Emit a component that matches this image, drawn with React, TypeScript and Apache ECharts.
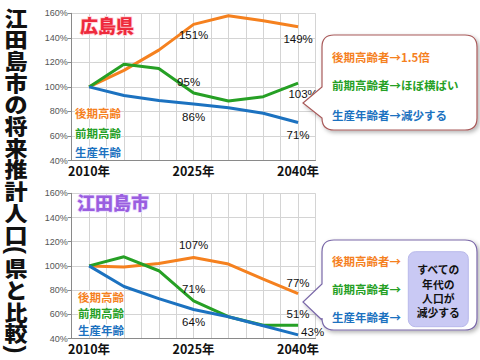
import React, { useEffect, useRef } from "react";
import * as echarts from "echarts";

const years = [2010, 2015, 2020, 2025, 2030, 2035, 2040];
const xTickYears = [2010, 2025, 2040];
const seriesNames = ["後期高齢", "前期高齢", "生産年齢"];
const hiroshimaLate = [100, 113.5, 130, 151, 158, 154, 149];
const hiroshimaEarly = [100, 118.5, 115, 95, 88.5, 92, 103];
const hiroshimaWorking = [100, 93, 89, 86, 83, 78.5, 71];
const etajimaLate = [100, 99, 102, 107, 101.5, 89, 77];
const etajimaEarly = [100, 107.5, 96, 71, 58, 51, 51];
const etajimaWorking = [100, 83, 73, 64, 58, 50.5, 43];
const panelTitles = ["広島県", "江田島市"];
const titleChars = ["江", "田", "島", "市", "の", "将", "来", "推", "計", "人", "口", "(", "県", "と", "比", "較", ")"];
const calloutTop = ["後期高齢者→1.5倍", "前期高齢者→ほぼ横ばい", "生産年齢者→減少する"];
const calloutBottom = ["後期高齢者→", "前期高齢者→", "生産年齢者→"];
const calloutNote = ["すべての", "年代の", "人口が", "減少する"];

const COLORS = ["#f5811f", "#26a025", "#1c72c0"];
const JP = "'Noto Sans CJK JP', 'Noto Sans', sans-serif";

function bubblePath(L: number, R: number, T: number, B: number, r: number, y1: number, tx: number, ty: number, y2: number) {
  return `M${L + r},${T} H${R - r} Q${R},${T} ${R},${T + r} V${B - r} Q${R},${B} ${R - r},${B} H${L + r} Q${L},${B} ${L},${B - r} V${y2} L${tx},${ty} L${L},${y1} V${T + r} Q${L},${T} ${L + r},${T} Z`;
}

echarts.graphic.registerShape("bubbleTop", echarts.graphic.extendPath(bubblePath(322, 477, 35, 130, 12, 87, 303, 103, 118), {}));
echarts.graphic.registerShape("bubbleBottom", echarts.graphic.extendPath(bubblePath(322, 477, 240, 330, 12, 284, 303, 302, 320), {}));

type LabelSpec = { [k: number]: { position: string; distance: number; offset?: number[] } };

function buildData(values: number[], spec: LabelSpec) {
  return values.map((v, i) => {
    const s = spec[i];
    if (!s) return { value: [years[i], v] };
    return {
      value: [years[i], v],
      label: {
        show: true,
        position: s.position,
        distance: s.distance,
        offset: s.offset || [0, 0],
        formatter: (p: any) => `${p.value[1]}%`,
        color: "#111",
        fontSize: 11.5,
        fontFamily: "'Liberation Sans', Arial, sans-serif",
      },
    };
  });
}

export default function App() {
  const ref = useRef<HTMLDivElement>(null);
  useEffect(() => {
    if (!ref.current) return;
    const chart = echarts.init(ref.current, undefined, { renderer: "svg" });

    const grids = [
      { left: 71.7, top: 13.3, width: 243.8, height: 147.2 },
      { left: 71.7, top: 193.3, width: 243.8, height: 145.2 },
    ];

    const xAxes = grids.map((_, gi) => ({
      type: "value",
      gridIndex: gi,
      min: 2007.5,
      max: 2042.5,
      interval: 2.5,
      axisLine: { show: true, lineStyle: { color: "#8a8a8a" } },
      axisTick: { show: false },
      splitLine: { show: true, lineStyle: { color: "#d4d4d4", width: 1 } },
      axisLabel: {
        formatter: (v: number) => (xTickYears.includes(v) ? `${v}年` : ""),
        color: "#111",
        fontSize: 12.5,
        fontWeight: "bold",
        fontFamily: JP,
        margin: 4,
        showMinLabel: true,
        showMaxLabel: true,
      },
    }));

    const yAxes = grids.map((_, gi) => ({
      type: "value",
      gridIndex: gi,
      min: 40,
      max: 160,
      interval: 20,
      axisLine: { show: true, lineStyle: { color: "#8a8a8a" } },
      axisTick: { show: true, length: 4, lineStyle: { color: "#8a8a8a" } },
      splitLine: { show: true, lineStyle: { color: "#d4d4d4", width: 1 } },
      axisLabel: {
        formatter: "{value}%",
        color: "#555",
        fontSize: 9,
        fontFamily: "'Liberation Sans', Arial, sans-serif",
        margin: 4,
      },
    }));

    const line = (name: string, gi: number, color: string, data: any[]) => ({
      name,
      type: "line",
      xAxisIndex: gi,
      yAxisIndex: gi,
      data,
      symbol: "circle",
      symbolSize: 0,
      showSymbol: true,
      showAllSymbol: true,
      lineStyle: { color, width: 3 },
      itemStyle: { color },
      label: { show: false },
    });

    const series = [
      line(seriesNames[0], 0, COLORS[0], buildData(hiroshimaLate, {
        3: { position: "bottom", distance: 5 },
        6: { position: "bottom", distance: 6 },
      })),
      line(seriesNames[1], 0, COLORS[1], buildData(hiroshimaEarly, {
        3: { position: "top", distance: 5, offset: [-5, 0] },
        6: { position: "bottom", distance: 5, offset: [5, 0] },
      })),
      line(seriesNames[2], 0, COLORS[2], buildData(hiroshimaWorking, {
        3: { position: "bottom", distance: 7 },
        6: { position: "bottom", distance: 7 },
      })),
      line(seriesNames[0], 1, COLORS[0], buildData(etajimaLate, {
        3: { position: "top", distance: 6 },
        6: { position: "top", distance: 5 },
      })),
      line(seriesNames[1], 1, COLORS[1], buildData(etajimaEarly, {
        3: { position: "top", distance: 6 },
        6: { position: "top", distance: 5.5 },
      })),
      line(seriesNames[2], 1, COLORS[2], buildData(etajimaWorking, {
        3: { position: "bottom", distance: 7 },
        6: { position: "right", distance: 3, offset: [0, -3] },
      })),
    ];

    const graphic: any[] = [];
    // big vertical title; brackets turned a quarter-turn as in vertical writing
    const titleCenters = [16, 37.7, 59.4, 81.1, 102.8, 124.5, 146.2, 167.9, 189.6, 211.3, 233, 250, 266.7, 288.4, 310.1, 331.8, 349.5];
    titleChars.forEach((ch, i) => {
      const isParen = ch === "(" || ch === ")";
      if (isParen) {
        graphic.push({
          type: "group",
          x: 16,
          y: titleCenters[i],
          rotation: -Math.PI / 2,
          z: 10,
          children: [
            {
              type: "text",
              x: 0,
              y: 0,
              style: {
                text: ch,
                fontSize: 24,
                fontWeight: "bold",
                fontFamily: "'Liberation Sans', Arial, sans-serif",
                fill: "#111",
                align: "center",
                verticalAlign: "middle",
              },
            },
          ],
        });
      } else {
        graphic.push({
          type: "text",
          x: 16,
          y: titleCenters[i],
          scaleX: 1.1,
          z: 10,
          style: {
            text: ch,
            fontSize: 21,
            fontWeight: 900,
            fontFamily: JP,
            fill: "#111",
            align: "center",
            verticalAlign: "middle",
          },
        });
      }
    });
    // panel titles
    graphic.push({
      type: "text",
      x: 80,
      y: 24.5,
      z: 10,
      style: {
        text: panelTitles[0],
        fontSize: 18,
        fontWeight: 900,
        fontFamily: JP,
        fill: "#ee2a3c",
        stroke: "#ffd0d6",
        lineWidth: 1.5,
        shadowColor: "rgba(240,40,60,0.5)",
        shadowBlur: 3,
        verticalAlign: "middle",
      },
    });
    graphic.push({
      type: "text",
      x: 77,
      y: 202,
      z: 10,
      style: {
        text: panelTitles[1],
        fontSize: 18,
        fontWeight: 900,
        fontFamily: JP,
        fill: "#9a5ee0",
        stroke: "#eadcff",
        lineWidth: 1.5,
        shadowColor: "rgba(150,90,220,0.5)",
        shadowBlur: 3,
        verticalAlign: "middle",
      },
    });
    // in-chart legend texts
    const legendY = [[113.3, 133.3, 152.3], [296.7, 313.3, 330]];
    const legendX = [75, 78];
    legendY.forEach((ys, gi) => {
      ys.forEach((y, i) => {
        graphic.push({
          type: "text",
          x: legendX[gi],
          y,
          z: 10,
          style: {
            text: seriesNames[i],
            fontSize: 11.5,
            fontWeight: "bold",
            fontFamily: JP,
            fill: COLORS[i],
            backgroundColor: "#ffffff",
            verticalAlign: "middle",
          },
        });
      });
    });
    // callouts
    graphic.push({
      type: "bubbleTop",
      x: 0,
      y: 0,
      z: 5,
      style: {
        fill: "#fff",
        stroke: "#a85a5a",
        lineWidth: 1.2,
        shadowColor: "rgba(0,0,0,0.3)",
        shadowBlur: 4,
        shadowOffsetX: 2,
        shadowOffsetY: 2,
      },
    });
    graphic.push({
      type: "bubbleBottom",
      x: 0,
      y: 0,
      z: 5,
      style: {
        fill: "#fff",
        stroke: "#7a68a8",
        lineWidth: 1.2,
        shadowColor: "rgba(0,0,0,0.3)",
        shadowBlur: 4,
        shadowOffsetX: 2,
        shadowOffsetY: 2,
      },
    });
    const topY = [57.3, 85, 115];
    topY.forEach((y, i) => {
      graphic.push({
        type: "text",
        x: 332,
        y,
        z: 10,
        style: {
          text: calloutTop[i],
          fontSize: 11.5,
          fontWeight: "bold",
          fontFamily: JP,
          fill: COLORS[i],
          verticalAlign: "middle",
        },
      });
    });
    const botY = [260.7, 289.3, 317.3];
    botY.forEach((y, i) => {
      graphic.push({
        type: "text",
        x: 332,
        y,
        z: 10,
        style: {
          text: calloutBottom[i],
          fontSize: 11.5,
          fontWeight: "bold",
          fontFamily: JP,
          fill: COLORS[i],
          verticalAlign: "middle",
        },
      });
    });
    graphic.push({
      type: "rect",
      z: 8,
      shape: { x: 408.3, y: 251.7, width: 60, height: 75, r: 7 },
      style: { fill: "#c9c9f4", stroke: "#b8b8ea", lineWidth: 1 },
    });
    const noteY = [269.3, 283.6, 297.9, 312.2];
    noteY.forEach((y, i) => {
      graphic.push({
        type: "text",
        x: 438.3,
        y,
        z: 10,
        style: {
          text: calloutNote[i],
          fontSize: 10.8,
          lineHeight: 13,
          fontWeight: "bold",
          fontFamily: JP,
          fill: "#111",
          align: "center",
          verticalAlign: "middle",
        },
      });
    });

    chart.setOption({
      animation: false,
      backgroundColor: "#ffffff",
      grid: grids,
      xAxis: xAxes,
      yAxis: yAxes,
      series,
      graphic,
    });
    return () => chart.dispose();
  }, []);
  return <div ref={ref} style={{ position: "fixed", left: 0, top: 0, width: 480, height: 360 }} />;
}
